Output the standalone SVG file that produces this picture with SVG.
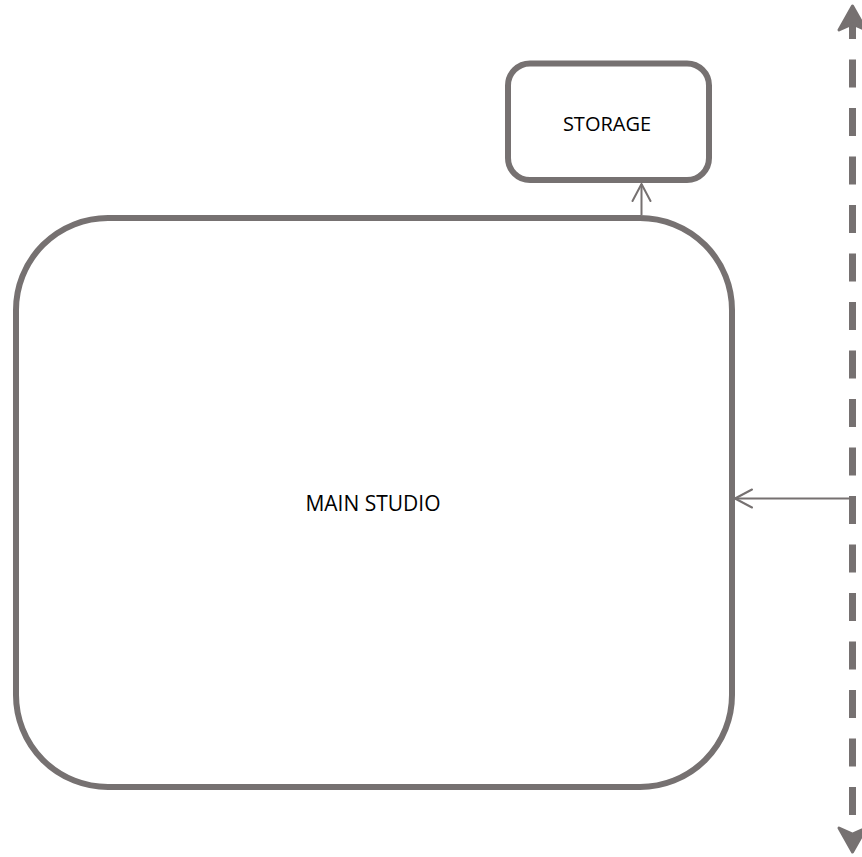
<svg xmlns="http://www.w3.org/2000/svg" width="862" height="857" viewBox="0 0 862 857">
<style>
.box{fill:#fff;stroke:#767171;stroke-width:6}
.lbl{font-family:"Open Sans","Liberation Sans",sans-serif;fill:#000;text-anchor:middle}
.conn{fill:none;stroke:#767171;stroke-width:2}
.dash{fill:none;stroke:#767171;stroke-width:7;stroke-dasharray:28 20.5}
.head{fill:#767171;stroke:#767171;stroke-width:3;stroke-linejoin:round}
</style>
<defs>
<marker id="open" viewBox="0 0 20 22" refX="19" refY="11" markerWidth="20" markerHeight="22" markerUnits="userSpaceOnUse" orient="auto">
<polyline points="2,2 19,11 2,20" fill="none" stroke="#767171" stroke-width="2" stroke-linecap="round" stroke-linejoin="round"/>
</marker>
</defs>
<rect width="862" height="857" fill="#fff"/>
<g id="main-studio">
<rect class="box" x="16" y="218" width="716" height="569" rx="92" ry="92"/>
<text class="lbl" x="373" y="511" font-size="21">MAIN STUDIO</text>
</g>
<g id="storage">
<rect class="box" x="508" y="63.5" width="201" height="116.5" rx="22" ry="22"/>
<text class="lbl" x="607" y="131" font-size="20">STORAGE</text>
</g>
<g id="connectors">
<line class="conn" x1="641.5" y1="215" x2="641.5" y2="184" marker-end="url(#open)"/>
<line class="conn" x1="851" y1="498.5" x2="735" y2="498.5" marker-end="url(#open)"/>
<line class="dash" x1="852.5" y1="11" x2="852.5" y2="846"/>
<path class="head" d="M852.5,6 L866,30 L852.5,24 L839,30 Z"/>
<path class="head" d="M852.5,852 L866,828 L852.5,834 L839,828 Z"/>
</g>
</svg>
